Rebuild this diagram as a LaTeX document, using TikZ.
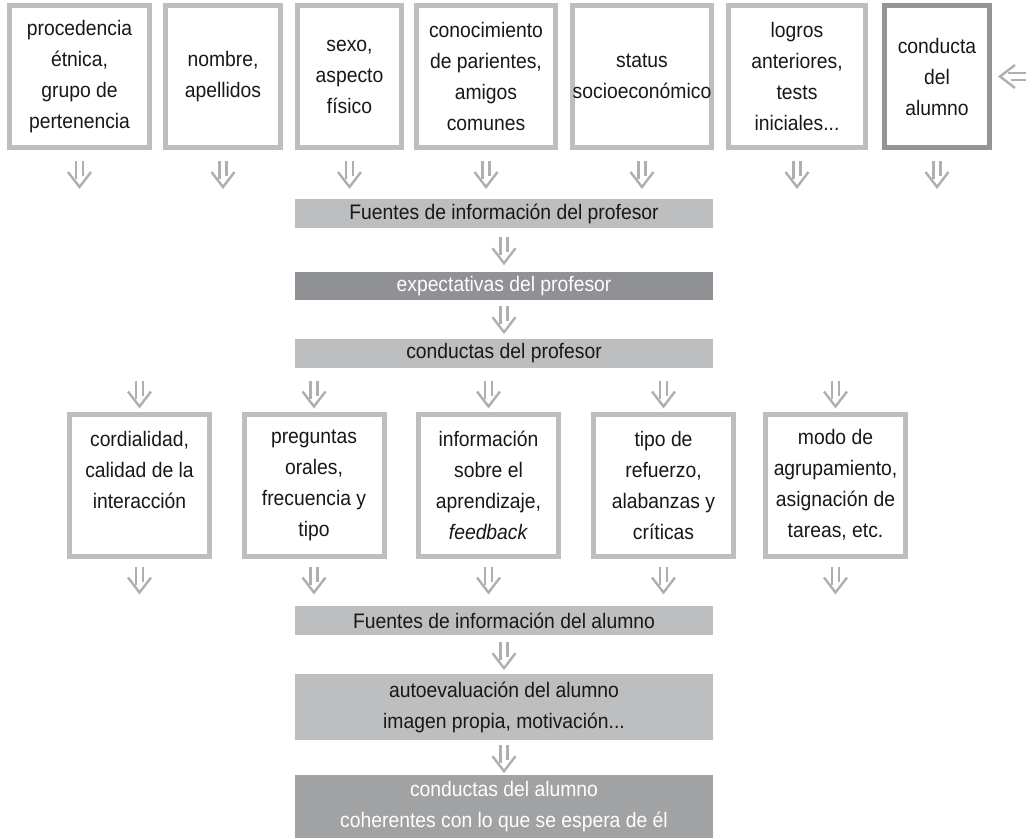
\documentclass[tikz,border=0pt]{standalone}
\usepackage{fontspec}
\setmainfont{Liberation Sans}[FakeStretch=0.92]
\usetikzlibrary{positioning}
\definecolor{framegray}{HTML}{BCBEC0}
\definecolor{framedark}{HTML}{939598}
\definecolor{bandlight}{HTML}{BCBEC0}
\definecolor{banddark}{HTML}{8F9194}
\definecolor{arrowgray}{HTML}{ADAFB1}
\definecolor{textgray}{HTML}{1A1718}

\tikzset{
  fuente/.style={draw=framegray, line width=5pt, fill=white, align=center, inner sep=0pt,
    minimum height=142pt, text=textgray},
  banda/.style={fill=bandlight, minimum width=418pt, inner sep=0pt, align=center, text=textgray},
  bandaosc/.style={banda, fill=banddark, text=white},
  dblarrow/.pic={
    \draw[arrowgray, line width=2.4pt] (-3.5,-13) -- (-3.5,5) (3.5,-13) -- (3.5,2);
    \draw[arrowgray, line width=2.4pt] (-11.5,-2) -- (0,13) -- (11.5,-2);
  }
}

\begin{document}
\begin{tikzpicture}[x=1pt, y=-1pt, every node/.style={font=\fontsize{21}{31}\selectfont}]
	\useasboundingbox (0,0) rectangle (1035,838);

	% fuentes del profesor
	\node[fuente, minimum width=140pt] (t1) at (79.5,76.5) {procedencia\\étnica,\\grupo de\\pertenencia};
	\node[fuente, minimum width=115pt] (t2) at (223,76.5) {nombre,\\apellidos};
	\node[fuente, minimum width=104pt] (t3) at (349.5,76.5) {sexo,\\aspecto\\físico};
	\node[fuente, minimum width=139pt] (t4) at (486,76.5) {conocimiento\\de parientes,\\amigos\\comunes};
	\node[fuente, minimum width=139pt] (t5) at (642,76.5) {status\\socioeconómico};
	\node[fuente, minimum width=137pt] (t6) at (797,76.5) {logros\\anteriores,\\tests\\iniciales...};
	\node[fuente, draw=framedark, minimum width=105pt] (t7) at (937,76.5) {conducta\\del\\alumno};

	\pic[rotate=-90] at ([xshift=21pt]t7.east) {dblarrow};
	\foreach \n in {t1,t2,t3,t4,t5,t6,t7}
		\pic at ([yshift=-24pt]\n.south) {dblarrow};

	\node[banda, minimum height=29pt] (fp) at (504,213.5) {Fuentes de información del profesor};
	\node[bandaosc, minimum height=28pt] (ep) at (504,286) {expectativas del profesor};
	\node[banda, minimum height=29pt] (cp) at (504,353.5) {conductas del profesor};
	\pic at ([yshift=-22pt]fp.south) {dblarrow};
	\pic at ([yshift=-19pt]ep.south) {dblarrow};

	% conductas del profesor
	\node[fuente, minimum width=140pt] (c1) at (139.5,485) {cordialidad,\\calidad de la\\interacción\\\mbox{}};
	\node[fuente, minimum width=140pt] (c2) at (314,485) {preguntas\\orales,\\frecuencia y\\tipo};
	\node[fuente, minimum width=140pt] (c3) at (488.5,485) {información\\sobre el\\aprendizaje,\\\textit{feedback}};
	\node[fuente, minimum width=140pt] (c4) at (663.5,485) {tipo de\\refuerzo,\\alabanzas y\\críticas};
	\node[fuente, minimum width=140pt] (c5) at (835.5,485) {modo de\\agrupamiento,\\asignación de\\tareas, etc.};

	\foreach \n in {c1,c2,c3,c4,c5} {
		\pic at ([yshift=18pt]\n.north) {dblarrow};
		\pic at ([yshift=-21pt]\n.south) {dblarrow};
	}

	\node[banda, minimum height=29pt] (fa) at (504,620.5) {Fuentes de información del alumno};
	\node[banda, minimum height=66pt] (aa) at (504,707) {autoevaluación del alumno\\imagen propia, motivación...};
	\node[bandaosc, minimum height=63pt, fill=banddark!85!white] (ca) at (504,806.5) {conductas del alumno\\coherentes con lo que se espera de él};
	\pic at ([yshift=-20pt]fa.south) {dblarrow};
	\pic at ([yshift=-18pt]aa.south) {dblarrow};
\end{tikzpicture}
\end{document}
